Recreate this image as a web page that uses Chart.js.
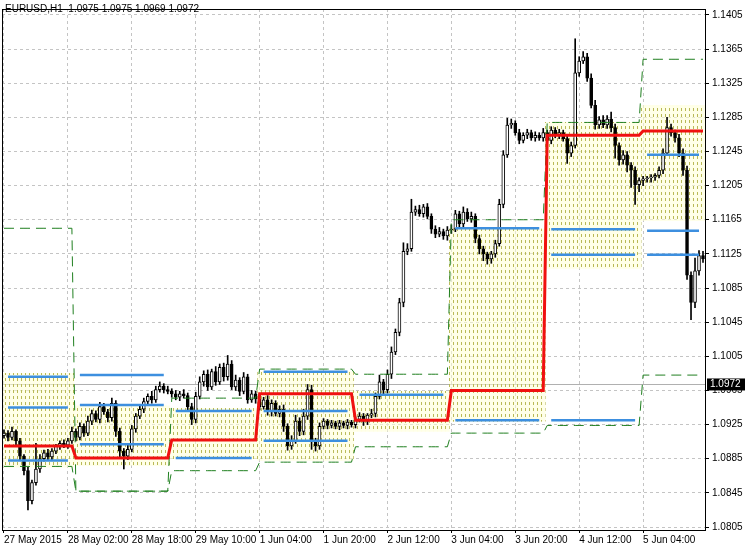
<!DOCTYPE html>
<html><head><meta charset="utf-8">
<script src="https://cdn.jsdelivr.net/npm/chart.js@4"></script>
<style>html,body{margin:0;padding:0;background:#fff}canvas{display:block}</style>
</head><body>
<canvas id="c" width="746" height="550"></canvas>
<script>
const title = "EURUSD,H1  1.0975 1.0975 1.0969 1.0972";
const bidPrice = 1.0972;
const xTickLabels = ["27 May 2015","28 May 02:00","28 May 18:00","29 May 10:00","1 Jun 04:00","1 Jun 20:00","2 Jun 12:00","3 Jun 04:00","3 Jun 20:00","4 Jun 12:00","5 Jun 04:00"];
const yTicks = [1.0805,1.0845,1.0885,1.0925,1.0965,1.1005,1.1045,1.1085,1.1125,1.1165,1.1205,1.1245,1.1285,1.1325,1.1365,1.1405];
const firstOpen = 1.0912;
const closes = [
1.0915,1.0910,1.0917,1.0906,1.0888,1.0871,1.0836,1.0857,1.0873,1.0885,1.0892,1.0887,1.0894,1.0900,1.0903,1.0901,
1.0906,1.0917,1.0910,1.0923,1.0915,1.0929,1.0938,1.0931,1.0946,1.0940,1.0933,1.0950,1.0917,1.0894,1.0888,1.0896,
1.0920,1.0935,1.0943,1.0952,1.0958,1.0954,1.0966,1.0970,1.0966,1.0964,1.0961,1.0957,1.0961,1.0959,1.0946,1.0931,
1.0958,1.0975,1.0984,1.0969,1.0987,1.0975,1.0992,1.0981,1.0996,1.0969,1.0977,1.0964,1.0981,1.0954,1.0961,1.0955,
1.0946,1.0954,1.0940,1.0950,1.0938,1.0943,1.0923,1.0900,1.0906,1.0929,1.0917,1.0935,1.0966,1.0906,1.0900,1.0923,
1.0929,1.0924,1.0927,1.0923,1.0927,1.0924,1.0928,1.0925,1.0931,1.0935,1.0929,1.0936,1.0938,1.0958,1.0975,1.0966,
1.0984,1.1010,1.1033,1.1068,1.1128,1.1131,1.1174,1.1177,1.1172,1.1180,1.1169,1.1154,1.1148,1.1151,1.1146,1.1153,
1.1154,1.1172,1.1160,1.1174,1.1166,1.1169,1.1143,1.1131,1.1125,1.1119,1.1125,1.1137,1.1183,1.1241,1.1276,1.1278,
1.1267,1.1258,1.1264,1.1267,1.1261,1.1264,1.1261,1.1267,1.1258,1.1270,1.1264,1.1267,1.1260,1.1243,1.1252,1.1337,
1.1351,1.1356,1.1331,1.1299,1.1276,1.1282,1.1276,1.1283,1.1273,1.1252,1.1235,1.1241,1.1229,1.1223,1.1206,1.1211,
1.1213,1.1214,1.1215,1.1217,1.1223,1.1243,1.1273,1.1267,1.1261,1.1243,1.1223,1.1100,1.1068,1.1105,1.1123,1.1119];
const wickUpPips = [
4,3,5,2,3,2,4,3,30,5,3,4,3,2,3,4,
3,5,3,4,3,6,4,3,5,4,3,6,3,4,3,5,
4,3,5,4,3,6,4,5,3,4,3,4,3,5,3,4,
5,6,4,5,3,6,4,5,10,4,6,3,5,3,4,3,
4,3,5,4,3,4,5,3,6,7,4,8,6,5,3,4,
3,2,3,2,3,2,3,2,3,4,3,2,5,4,8,3,
5,6,4,5,10,6,15,4,5,3,4,3,4,5,3,4,
5,4,3,6,4,5,3,4,3,2,3,4,6,5,8,5,
3,4,3,4,3,4,3,5,3,4,3,4,3,5,4,40,
5,6,4,5,6,4,5,4,8,4,3,5,4,3,4,3,
3,2,3,2,4,5,12,4,3,4,5,5,4,15,6,5];
const wickDnPips = [
3,4,3,5,4,5,11,4,3,4,3,4,3,3,4,3,
4,3,4,3,4,3,4,3,4,3,5,4,6,8,15,4,
3,4,3,4,3,4,3,3,4,3,4,3,4,3,5,6,
4,3,5,4,3,4,3,5,4,3,4,5,3,4,3,5,
4,3,4,5,3,4,6,5,4,3,5,4,4,10,6,4,
3,4,3,3,4,3,4,3,4,3,5,4,3,4,3,6,
4,5,3,4,5,4,3,4,3,4,3,5,4,3,4,5,
4,3,4,5,3,4,5,6,8,6,5,4,3,4,3,4,
3,4,3,4,3,4,3,4,3,4,3,4,3,12,4,3,
4,3,4,3,5,4,3,4,5,15,6,5,8,20,23,8,
6,4,5,4,3,4,3,4,5,4,6,5,20,6,5,4];
// daily indicator segments
const segStart = [0,18,42,64,88,112,136,160];
const segEnd   = [17,41,63,87,111,135,159,175];
const pivot    = [1.0900,1.0886,1.0907,1.0961,1.0930,1.0965,1.1264,1.1269];
const upperBand= [1.1155,1.0847,1.0956,1.0990,1.0984,1.1165,1.1279,1.1353];
const lowerBand= [1.0876,1.0847,1.0871,1.0881,1.0899,1.0915,1.0924,1.0983];
const zoneHigh = [1.0985,1.0947,1.0944,1.0987,1.0964,1.1154,1.1279,1.1299];
const zoneLow  = [1.0875,1.0877,1.0885,1.0883,1.0917,1.0929,1.1108,1.1164];
const blueSeg  = [0,0,0, 1,1,1, 2,2, 3,3,3, 4, 5,5, 6,6,6, 7,7,7];
const blueVal  = [1.0981,1.0945,1.0883, 1.0983,1.0948,1.0902, 1.0941,1.0886, 1.0987,1.0941,1.0906, 1.0960, 1.1155,1.0930, 1.1154,1.1124,1.0930, 1.1241,1.1152,1.1124];

const N = closes.length;
const labels = closes.map((_, i) => String(i));
const opens = closes.map((c, i) => i === 0 ? firstOpen : closes[i - 1]);
const highs = closes.map((c, i) => Math.max(opens[i], c) + wickUpPips[i] * 0.0001);
const lows = closes.map((c, i) => Math.min(opens[i], c) - wickDnPips[i] * 0.0001);

function perBar(vals) {
  const out = new Array(N).fill(null);
  segStart.forEach((s, k) => { for (let i = s; i <= segEnd[k]; i++) out[i] = vals[k]; });
  return out;
}

const pc = document.createElement('canvas'); pc.width = 4; pc.height = 6;
const px = pc.getContext('2d');
px.fillStyle = 'rgba(255,255,215,0.55)'; px.fillRect(0, 0, 4, 6);
px.fillStyle = '#b9b957'; px.fillRect(1, 0, 1, 3);
const ctx = document.getElementById('c').getContext('2d');
const pattern = ctx.createPattern(pc, 'repeat');

const zoneData = new Array(N).fill(null);
segStart.forEach((s, k) => { for (let i = s; i <= segEnd[k]; i++) zoneData[i] = [zoneLow[k], zoneHigh[k]]; });

const FONT = '"Liberation Sans", Arial, sans-serif';
const datasets = [];
datasets.push({type:'bar', data: zoneData, backgroundColor: pattern, borderWidth: 0, barPercentage: 1, categoryPercentage: 1, grouped: false, order: 20});
datasets.push({type:'bar', data: closes.map((c,i)=>[lows[i], highs[i]]), backgroundColor:'#000', barThickness: 1, grouped:false, order: 8});
datasets.push({type:'bar', data: closes.map((c,i)=>[opens[i], c]), backgroundColor: closes.map((c,i)=> c>=opens[i] ? '#fff' : '#000'), borderColor:'#000', borderWidth:1, borderSkipped:false, barThickness: 3, minBarLength: 1, grouped:false, order: 7});
const lineBase = {type:'line', pointRadius:0, fill:false, spanGaps:false, tension:0};
datasets.push(Object.assign({}, lineBase, {data: perBar(upperBand), borderColor:'#1f7f1f', borderWidth:1, borderDash:[10,6], spanGaps:true, order: 4}));
datasets.push(Object.assign({}, lineBase, {data: perBar(lowerBand), borderColor:'#1f7f1f', borderWidth:1, borderDash:[10,6], spanGaps:true, order: 4}));
blueSeg.forEach((k, j) => {
  const d = new Array(N).fill(null);
  for (let i = segStart[k] + 1; i <= segEnd[k] - 1; i++) d[i] = blueVal[j];
  datasets.push(Object.assign({}, lineBase, {data: d, borderColor:'#3d8fdf', borderWidth:2.5, order: 3}));
});
datasets.push(Object.assign({}, lineBase, {data: perBar(pivot), borderColor:'#f01010', borderWidth:3, spanGaps:true, order: 1}));

const deco = {
  id:'deco',
  beforeDatasetsDraw(chart){
    const {ctx, chartArea:a, scales:{y}} = chart;
    const yy = Math.round(y.getPixelForValue(bidPrice)) + 0.5;
    ctx.save(); ctx.strokeStyle = '#b0b0b0'; ctx.lineWidth = 1;
    ctx.beginPath(); ctx.moveTo(a.left, yy); ctx.lineTo(a.right, yy); ctx.stroke(); ctx.restore();
  },
  afterDraw(chart){
    const {ctx, chartArea:a, scales:{y}} = chart;
    ctx.save();
    ctx.strokeStyle = '#000'; ctx.lineWidth = 1;
    ctx.strokeRect(a.left + 0.5, a.top + 0.5, a.right - a.left, a.bottom - a.top);
    ctx.font = '10px ' + FONT; ctx.fillStyle = '#000'; ctx.textBaseline = 'top';
    ctx.fillText(title, 5, 4);
    const yy = y.getPixelForValue(bidPrice);
    ctx.fillStyle = '#000'; ctx.fillRect(a.right + 2, yy - 6, 38, 12);
    ctx.fillStyle = '#fff'; ctx.textBaseline = 'middle'; ctx.fillText(bidPrice.toFixed(4), a.right + 5, yy);
    ctx.restore();
  }
};

new Chart(ctx, {
  data: {labels, datasets},
  plugins: [deco],
  options: {
    responsive:false, animation:false, devicePixelRatio:1,
    layout:{padding:{top:2,left:2,right:0,bottom:0}},
    plugins:{legend:{display:false}, tooltip:{enabled:false}},
    scales:{
      x:{type:'category', offset:true,
        grid:{offset:false, color:(c)=> (c.index%16===0 ? '#c4c4c4' : 'rgba(0,0,0,0)'), tickColor:(c)=> (c.index%16===0 ? '#000' : 'rgba(0,0,0,0)'), tickLength:3},
        border:{display:false, dash:[3,3]},
        ticks:{autoSkip:false, maxRotation:0, align:'start', padding:1, color:'#000', font:{size:10, family:FONT},
          callback:(v,i)=> (i%16===0 ? xTickLabels[i/16] : '')},
        afterFit(s){ s.height = 20; }
      },
      y:{position:'right', min:1.08015, max:1.14119,
        afterBuildTicks(s){ s.ticks = yTicks.map(v=>({value:v})); },
        grid:{color:'#c4c4c4', tickColor:'#000', tickLength:4},
        border:{display:false, dash:[3,3]},
        ticks:{color:'#000', padding:3, font:{size:10, family:FONT}, callback:(v)=> Number(v).toFixed(4)},
        afterFit(s){ s.width = 41; }
      }
    }
  }
});
</script>
</body></html>
